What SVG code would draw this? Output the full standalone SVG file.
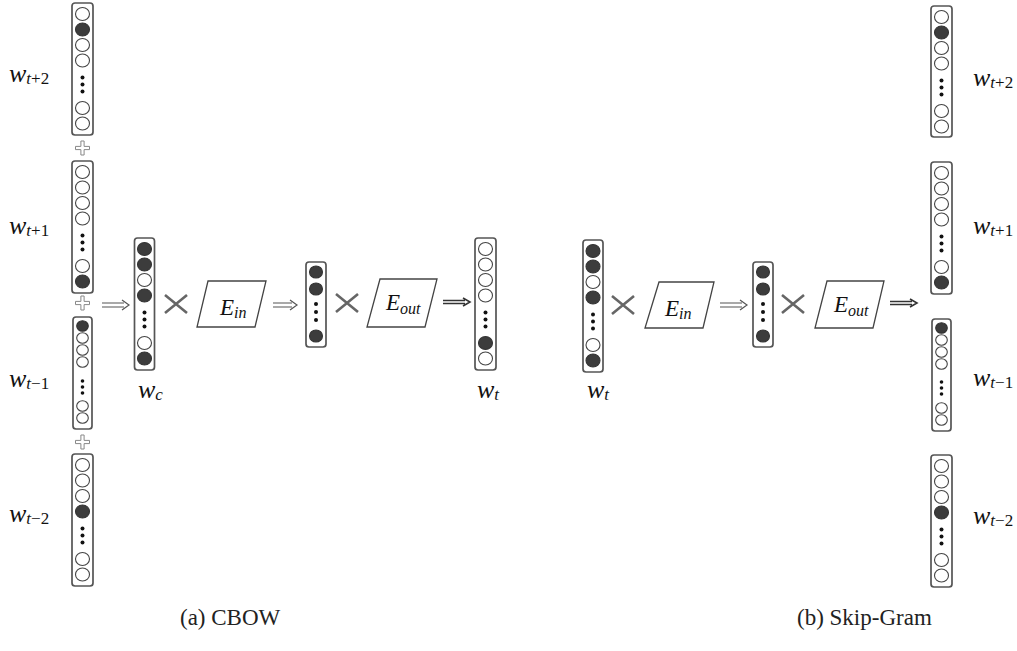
<svg xmlns="http://www.w3.org/2000/svg" width="1017" height="651" viewBox="0 0 1017 651">
<style>
.box{fill:#fff;stroke:#555;stroke-width:1.7}
.o{fill:#fff;stroke:#444;stroke-width:1.1}
.f{fill:#3c3c3c;stroke:#333;stroke-width:1.1}
.d{fill:#111}
.x{stroke:#666;stroke-width:2.6;fill:none}
.plus{fill:#fff;stroke:#888;stroke-width:1}
.para{fill:#fff;stroke:#444;stroke-width:1.3}
.arr{fill:none;stroke:#555;stroke-width:1.2}
.arrd{fill:none;stroke:#333;stroke-width:1.6}
.w{font-family:"Liberation Serif",serif;font-style:italic;font-size:26px;fill:#111}
.sub{font-size:17px}
.subr{font-size:17px;font-style:normal}
.e{font-family:"Liberation Serif",serif;font-style:italic;font-size:23px;fill:#111}
.es{font-size:16px}
.cap{font-family:"Liberation Serif",serif;font-size:23px;fill:#222}
</style>
<rect width="1017" height="651" fill="#fff"/>

<!-- CBOW input context vectors -->
<g id="cbow-wt2">
<rect class="box" x="72" y="3" width="21" height="132" rx="3"/>
<ellipse class="o" cx="82.5" cy="14" rx="7" ry="6.5"/>
<ellipse class="f" cx="82.5" cy="29.5" rx="7" ry="6.5"/>
<ellipse class="o" cx="82.5" cy="45" rx="7" ry="6.5"/>
<ellipse class="o" cx="82.5" cy="60.5" rx="7" ry="6.5"/>
<circle class="d" cx="82.5" cy="77.5" r="2"/><circle class="d" cx="82.5" cy="84.5" r="2"/><circle class="d" cx="82.5" cy="91.5" r="2"/>
<ellipse class="o" cx="82.5" cy="108" rx="7" ry="6.5"/>
<ellipse class="o" cx="82.5" cy="123.5" rx="7" ry="6.5"/>
<text class="w" x="9" y="82">w<tspan class="sub" dy="2">t</tspan><tspan class="subr">+2</tspan></text>
</g>
<g id="cbow-wt1">
<rect class="box" x="72" y="161" width="21" height="132" rx="3"/>
<ellipse class="o" cx="82.5" cy="172" rx="7" ry="6.5"/>
<ellipse class="o" cx="82.5" cy="187.5" rx="7" ry="6.5"/>
<ellipse class="o" cx="82.5" cy="203" rx="7" ry="6.5"/>
<ellipse class="o" cx="82.5" cy="218.5" rx="7" ry="6.5"/>
<circle class="d" cx="82.5" cy="235.5" r="2"/><circle class="d" cx="82.5" cy="242.5" r="2"/><circle class="d" cx="82.5" cy="249.5" r="2"/>
<ellipse class="o" cx="82.5" cy="266" rx="7" ry="6.5"/>
<ellipse class="f" cx="82.5" cy="281.5" rx="7" ry="6.5"/>
<text class="w" x="9" y="234">w<tspan class="sub" dy="2">t</tspan><tspan class="subr">+1</tspan></text>
</g>
<g id="cbow-wtm1">
<rect class="box" x="73" y="317" width="19" height="112" rx="3"/>
<ellipse class="f" cx="82.5" cy="326" rx="5.8" ry="5.3"/>
<ellipse class="o" cx="82.5" cy="338" rx="5.8" ry="5.3"/>
<ellipse class="o" cx="82.5" cy="350" rx="5.8" ry="5.3"/>
<ellipse class="o" cx="82.5" cy="362" rx="5.8" ry="5.3"/>
<circle class="d" cx="82.5" cy="381" r="1.8"/><circle class="d" cx="82.5" cy="387" r="1.8"/><circle class="d" cx="82.5" cy="393" r="1.8"/>
<ellipse class="o" cx="82.5" cy="406" rx="5.8" ry="5.3"/>
<ellipse class="o" cx="82.5" cy="418" rx="5.8" ry="5.3"/>
<text class="w" x="9" y="387">w<tspan class="sub" dy="2">t</tspan><tspan class="subr">−1</tspan></text>
</g>
<g id="cbow-wtm2">
<rect class="box" x="72" y="454" width="21" height="132" rx="3"/>
<ellipse class="o" cx="82.5" cy="465" rx="7" ry="6.5"/>
<ellipse class="o" cx="82.5" cy="480.5" rx="7" ry="6.5"/>
<ellipse class="o" cx="82.5" cy="496" rx="7" ry="6.5"/>
<ellipse class="f" cx="82.5" cy="511.5" rx="7" ry="6.5"/>
<circle class="d" cx="82.5" cy="528.5" r="2"/><circle class="d" cx="82.5" cy="535.5" r="2"/><circle class="d" cx="82.5" cy="542.5" r="2"/>
<ellipse class="o" cx="82.5" cy="559" rx="7" ry="6.5"/>
<ellipse class="o" cx="82.5" cy="574.5" rx="7" ry="6.5"/>
<text class="w" x="9" y="522">w<tspan class="sub" dy="2">t</tspan><tspan class="subr">−2</tspan></text>
</g>
<g id="cbow-plus">
<path class="plus" transform="translate(82.5 148)" d="M-1.6 -7H1.6V-1.6H7V1.6H1.6V7H-1.6V1.6H-7V-1.6H-1.6Z"/>
<path class="plus" transform="translate(82.5 303)" d="M-1.6 -7H1.6V-1.6H7V1.6H1.6V7H-1.6V1.6H-7V-1.6H-1.6Z"/>
<path class="plus" transform="translate(82.5 442)" d="M-1.6 -7H1.6V-1.6H7V1.6H1.6V7H-1.6V1.6H-7V-1.6H-1.6Z"/>
</g>

<!-- CBOW w_c -->
<g id="cbow-wc">
<rect class="box" x="134.5" y="238" width="20" height="132" rx="3"/>
<ellipse class="f" cx="144.5" cy="249" rx="7" ry="6.5"/>
<ellipse class="f" cx="144.5" cy="264.5" rx="7" ry="6.5"/>
<ellipse class="o" cx="144.5" cy="280" rx="7" ry="6.5"/>
<ellipse class="f" cx="144.5" cy="295.5" rx="7" ry="6.5"/>
<circle class="d" cx="144.5" cy="312.5" r="2"/><circle class="d" cx="144.5" cy="319.5" r="2"/><circle class="d" cx="144.5" cy="326.5" r="2"/>
<ellipse class="o" cx="144.5" cy="343" rx="7" ry="6.5"/>
<ellipse class="f" cx="144.5" cy="358.5" rx="7" ry="6.5"/>
<text class="w" x="138" y="398">w<tspan class="sub" dy="2">c</tspan></text>
</g>
<g id="cbow-x1"><path class="x" d="M165 295L187 313M187 295L165 313"/></g>
<g id="cbow-ein">
<polygon class="para" points="208,281 266,281 255,327 197,327"/>
<text class="e" x="220" y="315">E<tspan class="es" dy="3">in</tspan></text>
</g>
<g id="cbow-hidden">
<rect class="box" x="306" y="262" width="20" height="85" rx="3"/>
<ellipse class="f" cx="316" cy="272" rx="6.5" ry="6"/>
<ellipse class="f" cx="316" cy="289" rx="6.5" ry="6"/>
<circle class="d" cx="316" cy="304" r="2"/><circle class="d" cx="316" cy="312" r="2"/><circle class="d" cx="316" cy="320" r="2"/>
<ellipse class="f" cx="316" cy="336" rx="6.5" ry="6"/>
</g>
<g id="cbow-x2"><path class="x" d="M336 294L358 312M358 294L336 312"/></g>
<g id="cbow-eout">
<polygon class="para" points="380,279 437,279 425,327 367,327"/>
<text class="e" x="386" y="310">E<tspan class="es" dy="4">out</tspan></text>
</g>
<g id="cbow-wt">
<rect class="box" x="475" y="238" width="21" height="132" rx="3"/>
<ellipse class="o" cx="485.5" cy="249" rx="7" ry="6.5"/>
<ellipse class="o" cx="485.5" cy="264.5" rx="7" ry="6.5"/>
<ellipse class="o" cx="485.5" cy="280" rx="7" ry="6.5"/>
<ellipse class="o" cx="485.5" cy="295.5" rx="7" ry="6.5"/>
<circle class="d" cx="485.5" cy="312.5" r="2"/><circle class="d" cx="485.5" cy="319.5" r="2"/><circle class="d" cx="485.5" cy="326.5" r="2"/>
<ellipse class="f" cx="485.5" cy="343" rx="7" ry="6.5"/>
<ellipse class="o" cx="485.5" cy="358.5" rx="7" ry="6.5"/>
<text class="w" x="477" y="398">w<tspan class="sub" dy="2">t</tspan></text>
</g>

<!-- Skip-gram -->
<g id="sg-wt">
<rect class="box" x="583" y="240" width="20" height="132" rx="3"/>
<ellipse class="f" cx="593" cy="251" rx="7" ry="6.5"/>
<ellipse class="f" cx="593" cy="266.5" rx="7" ry="6.5"/>
<ellipse class="o" cx="593" cy="282" rx="7" ry="6.5"/>
<ellipse class="f" cx="593" cy="297.5" rx="7" ry="6.5"/>
<circle class="d" cx="593" cy="314.5" r="2"/><circle class="d" cx="593" cy="321.5" r="2"/><circle class="d" cx="593" cy="328.5" r="2"/>
<ellipse class="o" cx="593" cy="345" rx="7" ry="6.5"/>
<ellipse class="f" cx="593" cy="360.5" rx="7" ry="6.5"/>
<text class="w" x="587" y="398">w<tspan class="sub" dy="2">t</tspan></text>
</g>
<g id="sg-x1"><path class="x" d="M612 296L634 314M634 296L612 314"/></g>
<g id="sg-ein">
<polygon class="para" points="659,282 714,282 703,328 645,328"/>
<text class="e" x="665" y="316">E<tspan class="es" dy="3">in</tspan></text>
</g>
<g id="sg-hidden">
<rect class="box" x="753" y="262" width="20" height="85" rx="3"/>
<ellipse class="f" cx="763" cy="272" rx="6.5" ry="6"/>
<ellipse class="f" cx="763" cy="289" rx="6.5" ry="6"/>
<circle class="d" cx="763" cy="304" r="2"/><circle class="d" cx="763" cy="312" r="2"/><circle class="d" cx="763" cy="320" r="2"/>
<ellipse class="f" cx="763" cy="336" rx="6.5" ry="6"/>
</g>
<g id="sg-x2"><path class="x" d="M782 295L804 313M804 295L782 313"/></g>
<g id="sg-eout">
<polygon class="para" points="827,281 884,281 873,328 815,328"/>
<text class="e" x="834" y="312">E<tspan class="es" dy="4">out</tspan></text>
</g>

<g id="sg-wt2">
<rect class="box" x="931" y="6" width="21" height="131" rx="3"/>
<ellipse class="o" cx="941.5" cy="17" rx="7" ry="6.5"/>
<ellipse class="f" cx="941.5" cy="32.5" rx="7" ry="6.5"/>
<ellipse class="o" cx="941.5" cy="48" rx="7" ry="6.5"/>
<ellipse class="o" cx="941.5" cy="63.5" rx="7" ry="6.5"/>
<circle class="d" cx="941.5" cy="80.5" r="2"/><circle class="d" cx="941.5" cy="87.5" r="2"/><circle class="d" cx="941.5" cy="94.5" r="2"/>
<ellipse class="o" cx="941.5" cy="111" rx="7" ry="6.5"/>
<ellipse class="o" cx="941.5" cy="126.5" rx="7" ry="6.5"/>
<text class="w" x="973" y="86">w<tspan class="sub" dy="2">t</tspan><tspan class="subr">+2</tspan></text>
</g>
<g id="sg-wt1">
<rect class="box" x="931" y="162" width="21" height="132" rx="3"/>
<ellipse class="o" cx="941.5" cy="173" rx="7" ry="6.5"/>
<ellipse class="o" cx="941.5" cy="188.5" rx="7" ry="6.5"/>
<ellipse class="o" cx="941.5" cy="204" rx="7" ry="6.5"/>
<ellipse class="o" cx="941.5" cy="219.5" rx="7" ry="6.5"/>
<circle class="d" cx="941.5" cy="236.5" r="2"/><circle class="d" cx="941.5" cy="243.5" r="2"/><circle class="d" cx="941.5" cy="250.5" r="2"/>
<ellipse class="o" cx="941.5" cy="267" rx="7" ry="6.5"/>
<ellipse class="f" cx="941.5" cy="282.5" rx="7" ry="6.5"/>
<text class="w" x="973" y="234">w<tspan class="sub" dy="2">t</tspan><tspan class="subr">+1</tspan></text>
</g>
<g id="sg-wtm1">
<rect class="box" x="932" y="319" width="19" height="112" rx="3"/>
<ellipse class="f" cx="941.5" cy="328" rx="5.8" ry="5.3"/>
<ellipse class="o" cx="941.5" cy="340" rx="5.8" ry="5.3"/>
<ellipse class="o" cx="941.5" cy="352" rx="5.8" ry="5.3"/>
<ellipse class="o" cx="941.5" cy="364" rx="5.8" ry="5.3"/>
<circle class="d" cx="941.5" cy="382" r="1.8"/><circle class="d" cx="941.5" cy="388" r="1.8"/><circle class="d" cx="941.5" cy="394" r="1.8"/>
<ellipse class="o" cx="941.5" cy="408" rx="5.8" ry="5.3"/>
<ellipse class="o" cx="941.5" cy="420" rx="5.8" ry="5.3"/>
<text class="w" x="973" y="386">w<tspan class="sub" dy="2">t</tspan><tspan class="subr">−1</tspan></text>
</g>
<g id="sg-wtm2">
<rect class="box" x="931" y="455" width="21" height="132" rx="3"/>
<ellipse class="o" cx="941.5" cy="466" rx="7" ry="6.5"/>
<ellipse class="o" cx="941.5" cy="481.5" rx="7" ry="6.5"/>
<ellipse class="o" cx="941.5" cy="497" rx="7" ry="6.5"/>
<ellipse class="f" cx="941.5" cy="512.5" rx="7" ry="6.5"/>
<circle class="d" cx="941.5" cy="529.5" r="2"/><circle class="d" cx="941.5" cy="536.5" r="2"/><circle class="d" cx="941.5" cy="543.5" r="2"/>
<ellipse class="o" cx="941.5" cy="560" rx="7" ry="6.5"/>
<ellipse class="o" cx="941.5" cy="575.5" rx="7" ry="6.5"/>
<text class="w" x="973" y="524">w<tspan class="sub" dy="2">t</tspan><tspan class="subr">−2</tspan></text>
</g>

<!-- connectors -->
<g id="connectors">
<path class="arr" d="M102 303H124M102 307H124M122 300L129 305L122 310"/>
<path class="arr" d="M273 303H292M273 307H292M290 300L297 305L290 310"/>
<path class="arrd" d="M443 300.5H465M443 303.5H465M463 298L470 302L463 306"/>
<path class="arr" d="M720 303H742M720 307H742M740 300L747 305L740 310"/>
<path class="arrd" d="M890 301.5H912M890 304.5H912M910 299L917 303L910 307"/>
</g>

<g id="captions">
<text class="cap" x="180" y="625">(a) CBOW</text>
<text class="cap" x="797" y="625">(b) Skip-Gram</text>
</g>
</svg>
